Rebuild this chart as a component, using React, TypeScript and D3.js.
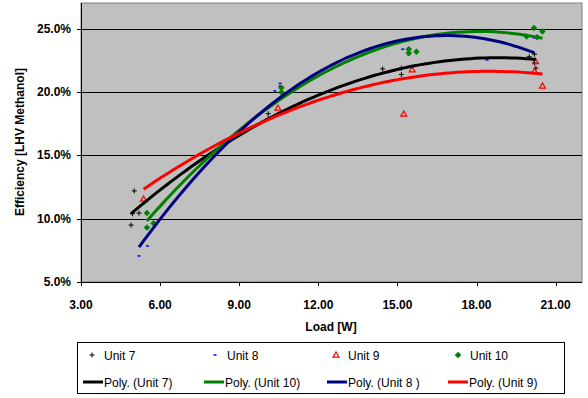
import React from "react";
import * as d3 from "d3";

// Measured points per unit: load [W] and efficiency [%]
const unit7Load = [5.02, 4.95, 5.2, 4.9, 10.1, 10.1, 14.44, 15.15, 15.15, 20.0, 20.2, 20.2, 20.25];
const unit7Eff = [12.2, 10.4, 10.45, 9.5, 18.3, 17.9, 21.84, 21.9, 21.4, 22.8, 23.0, 22.3, 21.9];

const unit8Load = [5.52, 5.2, 10.55, 10.55, 10.35, 15.2, 15.43, 15.43, 18.4, 19.45, 20.18];
const unit8Eff = [7.85, 7.06, 20.7, 20.5, 20.1, 23.4, 23.4, 22.97, 22.55, 23.6, 24.3];

const unit9Load = [5.37, 10.47, 15.56, 15.24, 20.24, 20.2, 20.5];
const unit9Eff = [11.56, 18.75, 21.78, 18.28, 22.44, 21.65, 20.5];

const unit10Load = [5.5, 5.75, 5.5, 10.6, 10.6, 15.43, 15.43, 15.72, 20.18, 20.5, 19.9, 20.3];
const unit10Eff = [10.45, 9.65, 9.3, 20.35, 20.0, 23.4, 23.1, 23.2, 25.08, 24.8, 24.4, 24.35];

// Second-order trendline coefficients [c0, c1, c2]: eff = c0 + c1*x + c2*x^2
const trendUnit7 = [0.187, 2.3963, -0.0637];
const trendUnit8 = [-10.502, 4.1495, -0.12306];
const trendUnit9 = [3.141, 2.001, -0.05408];
const trendUnit10 = [-6.094, 3.4137, -0.0943];

const xTicks = [3, 6, 9, 12, 15, 18, 21];
const yTicks = [5, 10, 15, 20, 25];

const W = 588;
const H = 398;
const plot = { left: 81, right: 582, top: 3, bottom: 282 };

const x = d3.scaleLinear().domain([3, 22]).range([plot.left, plot.right]);
const y = d3.scaleLinear().domain([5, 27.05]).range([plot.bottom, plot.top]);

function trendPath(xs: number[], coef: number[]): string {
  const [c0, c1, c2] = coef;
  const lo = d3.min(xs) as number;
  const hi = d3.max(xs) as number;
  const pts: [number, number][] = d3.range(0, 81).map((i) => {
    const v = lo + ((hi - lo) * i) / 80;
    return [v, c0 + c1 * v + c2 * v * v];
  });
  return d3.line<[number, number]>().x((d) => x(d[0])).y((d) => y(d[1]))(pts) || "";
}

const FONT = "Arial, 'Liberation Sans', sans-serif";

function Plus({ cx, cy, color = "#000" }: { cx: number; cy: number; color?: string }) {
  return <path d={`M${cx - 2.5},${cy}H${cx + 2.5}M${cx},${cy - 2.5}V${cy + 2.5}`} stroke={color} strokeWidth={1} />;
}
function Dash({ cx, cy }: { cx: number; cy: number }) {
  return <path d={`M${cx - 1.5},${cy}H${cx + 1.5}`} stroke="#0000FF" strokeWidth={1.5} />;
}
function Tri({ cx, cy }: { cx: number; cy: number }) {
  return <path d={`M${cx},${cy - 3}L${cx + 3},${cy + 2.2}L${cx - 3},${cy + 2.2}Z`} fill="none" stroke="#FF0000" strokeWidth={1.2} />;
}
function Diamond({ cx, cy }: { cx: number; cy: number }) {
  return <path d={`M${cx},${cy - 3}L${cx + 3},${cy}L${cx},${cy + 3}L${cx - 3},${cy}Z`} fill="#008000" stroke="#008000" strokeWidth={0.5} />;
}

const trends = [
  { name: "Poly. (Unit 7)", xs: unit7Load, coef: trendUnit7, color: "#000000" },
  { name: "Poly. (Unit 10)", xs: unit10Load, coef: trendUnit10, color: "#008000" },
  { name: "Poly. (Unit 8 )", xs: unit8Load, coef: trendUnit8, color: "#000080" },
  { name: "Poly. (Unit 9)", xs: unit9Load, coef: trendUnit9, color: "#FF0000" },
];

export default function App() {
  const legendRow1 = 355;
  const legendRow2 = 382;
  return (
    <svg width={W} height={H} style={{ position: "absolute", left: 0, top: 0, background: "#fff" }} fontFamily={FONT}>
      <rect x={plot.left} y={plot.top} width={plot.right - plot.left} height={plot.bottom - plot.top} fill="#C0C0C0" stroke="#808080" strokeWidth={1} />
      {yTicks.slice(1).map((t) => (
        <line key={t} x1={plot.left} x2={plot.right} y1={Math.round(y(t)) + 0.5} y2={Math.round(y(t)) + 0.5} stroke="#000" strokeWidth={1} />
      ))}
      <line x1={plot.left + 0.5} x2={plot.left + 0.5} y1={plot.top} y2={plot.bottom} stroke="#000" />
      <line x1={plot.left} x2={plot.right} y1={plot.bottom + 0.5} y2={plot.bottom + 0.5} stroke="#000" />
      {yTicks.map((t) => (
        <g key={t}>
          <line x1={plot.left - 4} x2={plot.left} y1={Math.round(y(t)) + 0.5} y2={Math.round(y(t)) + 0.5} stroke="#000" />
          <text x={71} y={y(t) + 4} textAnchor="end" fontSize={12} fontWeight="bold">{t.toFixed(1)}%</text>
        </g>
      ))}
      {xTicks.map((t) => (
        <g key={t}>
          <line x1={Math.round(x(t)) + 0.5} x2={Math.round(x(t)) + 0.5} y1={plot.bottom} y2={plot.bottom + 4} stroke="#000" />
          <text x={x(t)} y={308.5} textAnchor="middle" fontSize={12} fontWeight="bold">{t.toFixed(2)}</text>
        </g>
      ))}
      <text x={331} y={331} textAnchor="middle" fontSize={12} fontWeight="bold">Load [W]</text>
      <text transform={`translate(24,142) rotate(-90)`} textAnchor="middle" fontSize={12} fontWeight="bold">Efficiency [LHV Methanol]</text>

      {unit7Load.map((v, i) => <Plus key={"a" + i} cx={x(v)} cy={y(unit7Eff[i])} />)}
      {unit8Load.map((v, i) => <Dash key={"b" + i} cx={x(v)} cy={y(unit8Eff[i])} />)}
      {unit9Load.map((v, i) => <Tri key={"c" + i} cx={x(v)} cy={y(unit9Eff[i])} />)}
      {unit10Load.map((v, i) => <Diamond key={"d" + i} cx={x(v)} cy={y(unit10Eff[i])} />)}

      {trends.map((t) => (
        <path key={t.name} d={trendPath(t.xs, t.coef)} fill="none" stroke={t.color} strokeWidth={3} />
      ))}

      <rect x={77.5} y={342.5} width={487} height={51} fill="#fff" stroke="#000" strokeWidth={1} />
      <Plus cx={92} cy={legendRow1} />
      <text x={104} y={legendRow1 + 4.5} fontSize={12}>Unit 7</text>
      <Dash cx={215} cy={legendRow1} />
      <text x={227} y={legendRow1 + 4.5} fontSize={12}>Unit 8</text>
      <Tri cx={336} cy={legendRow1} />
      <text x={348} y={legendRow1 + 4.5} fontSize={12}>Unit 9</text>
      <line x1={448} x2={468} y1={legendRow1} y2={legendRow1} stroke="#CCFFFF" strokeWidth={1} />
      <Diamond cx={458} cy={legendRow1} />
      <text x={470} y={legendRow1 + 4.5} fontSize={12}>Unit 10</text>
      {trends.map((t, i) => {
        const lx = [83, 204, 327, 448][i];
        return (
          <g key={t.name}>
            <line x1={lx} x2={lx + 20} y1={legendRow2} y2={legendRow2} stroke={t.color} strokeWidth={3} />
            <text x={lx + 21} y={legendRow2 + 4.5} fontSize={12}>{t.name}</text>
          </g>
        );
      })}
    </svg>
  );
}
